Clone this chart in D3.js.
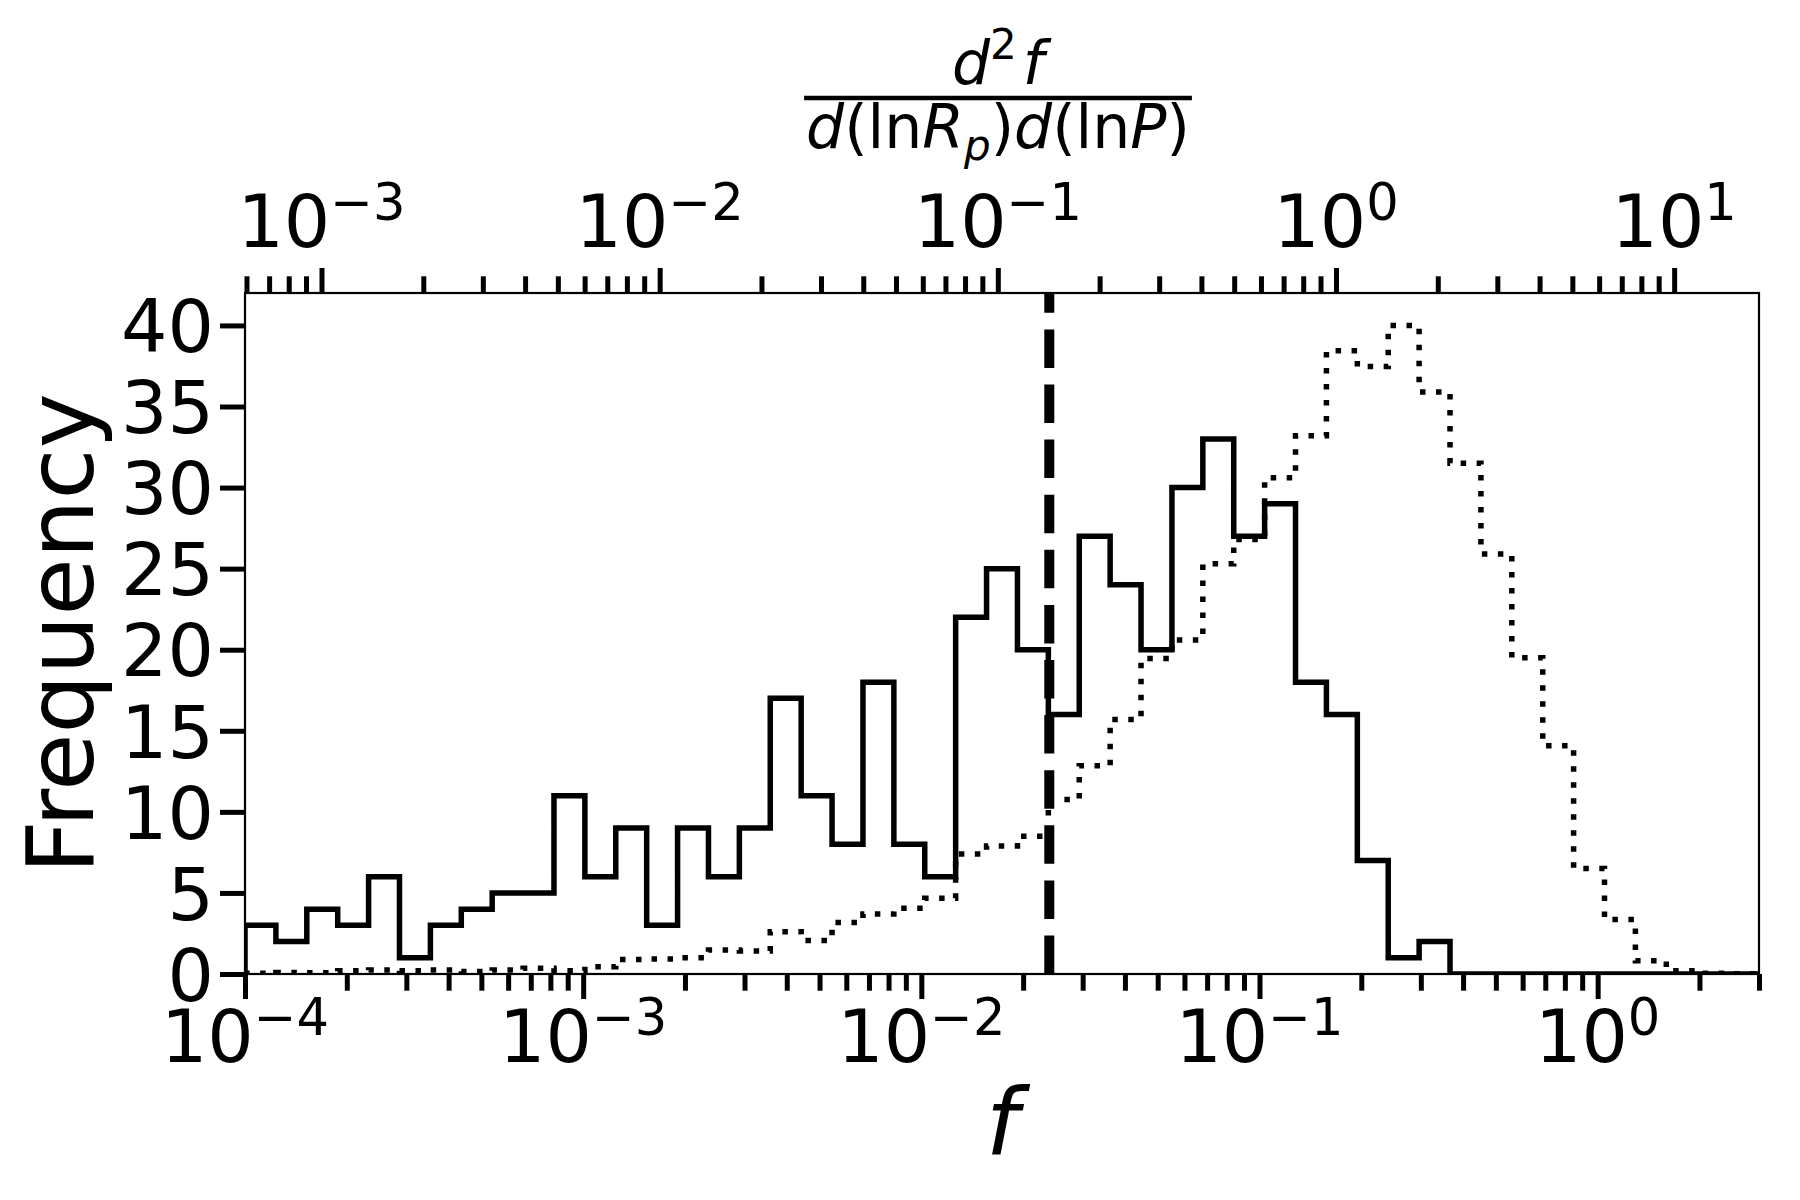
<!DOCTYPE html>
<html>
<head>
<meta charset="utf-8">
<script src="https://cdn.jsdelivr.net/npm/d3@7"></script>
<style>
    body { margin: 0; background: #fff; }
    svg { display: block; font-family: "DejaVu Sans", sans-serif; }
</style>
</head>
<body>
<svg id="chart" width="1800" height="1200"></svg>
<script>
// both histograms share the same log-spaced bins
var binLow = 1e-4;
var binHigh = 3.0;

// solid histogram (counts per bin)
var solidCounts = [3, 2, 4, 3, 6, 1, 3, 4, 5, 5, 11, 6, 9, 3, 9, 6, 9, 17, 11, 8, 18, 8, 6, 22, 25,
    20, 16, 27, 24, 20, 30, 33, 27, 29, 18, 16, 7, 1, 2, 0, 0, 0, 0, 0, 0, 0, 0, 0, 0];

// dotted histogram (scaled, non integer)
var dottedCounts = [0.05, 0.1, 0.08, 0.2, 0.25, 0.2, 0.25, 0.15, 0.25, 0.35, 0.2, 0.45,
    0.9, 0.93, 1.0, 1.48, 1.42, 2.61, 2.06, 3.17, 3.7, 4.05, 4.67,
    7.4, 7.9, 8.5, 10.76, 12.85, 15.7, 19.46, 20.6, 25.3, 26.8, 30.6, 33.2,
    38.44, 37.46, 40.0, 35.9, 31.5, 25.9, 19.5, 14.07, 6.5, 3.36, 0.81, 0.2, 0.05, 0.02];

var yTicks = [0, 5, 10, 15, 20, 25, 30, 35, 40];
var yMax = 42;
var bottomExponents = [-4, -3, -2, -1, 0];
var topExponents = [-3, -2, -1, 0, 1];
// top axis value = f * topFactor
var topFactor = 5.94;
// vertical dashed line position
var fCut = 0.0239;

var box = { left: 245, right: 1759, top: 293, bottom: 974 };
var tickFont = 73;
var labelFont = 93;
var fracFont = 60;

var svg = d3.select("#chart");

var x = d3.scaleLog().domain([binLow, binHigh]).range([box.left, box.right]);
var xTop = d3.scaleLog().domain([binLow * topFactor, binHigh * topFactor]).range([box.left, box.right]);
var y = d3.scaleLinear().domain([0, yMax]).range([box.bottom, box.top]);

// bin edges
var nBins = solidCounts.length;
var lo = Math.log10(binLow), hi = Math.log10(binHigh);
var edges = d3.range(nBins + 1).map(function (i) {
    return Math.pow(10, lo + i * (hi - lo) / nBins);
});

function stepPoints(counts) {
    var pts = [[edges[0], 0]];
    counts.forEach(function (c, i) {
        pts.push([edges[i], c]);
        pts.push([edges[i + 1], c]);
    });
    pts.push([edges[nBins], 0]);
    return pts;
}

var line = d3.line()
    .x(function (d) { return x(d[0]); })
    .y(function (d) { return y(d[1]); });

svg.append("defs").append("clipPath").attr("id", "plotClip")
    .append("rect")
    .attr("x", box.left).attr("y", box.top)
    .attr("width", box.right - box.left).attr("height", box.bottom - box.top);

var plot = svg.append("g").attr("clip-path", "url(#plotClip)");

plot.append("path")
    .attr("d", line(stepPoints(solidCounts)))
    .attr("fill", "none")
    .attr("stroke", "#000")
    .attr("stroke-width", 5.5)
    .attr("stroke-linejoin", "miter");

plot.append("path")
    .attr("d", line(stepPoints(dottedCounts)))
    .attr("fill", "none")
    .attr("stroke", "#000")
    .attr("stroke-width", 5.5)
    .attr("stroke-dasharray", "5.5 10.5");

// dashed line drawn from bottom to top
plot.append("line")
    .attr("x1", x(fCut)).attr("x2", x(fCut))
    .attr("y1", y(0)).attr("y2", box.top)
    .attr("stroke", "#000")
    .attr("stroke-width", 10)
    .attr("stroke-dasharray", "38.5 16.6");

// frame
svg.append("rect")
    .attr("x", box.left).attr("y", box.top)
    .attr("width", box.right - box.left).attr("height", box.bottom - box.top)
    .attr("fill", "none").attr("stroke", "#000").attr("stroke-width", 2.2);

function isMajor(v) {
    var l = Math.log10(v);
    return Math.abs(l - Math.round(l)) < 1e-9;
}

function drawTicks(axisFn, scale, translateY) {
    var all = scale.ticks();
    var minor = all.filter(function (v) { return !isMajor(v); });
    var major = all.filter(isMajor);
    [[minor, 16.7], [major, 25]].forEach(function (set) {
        var g = svg.append("g")
            .attr("transform", "translate(0," + translateY + ")")
            .call(axisFn(scale).tickValues(set[0]).tickSize(set[1]).tickFormat(""));
        g.select(".domain").remove();
        g.selectAll(".tick line").attr("stroke", "#000").attr("stroke-width", 5);
    });
}
drawTicks(d3.axisBottom, x, box.bottom);
drawTicks(d3.axisTop, xTop, box.top);

// 10^n labels
function powLabel(xPos, baseline, exp) {
    var t = svg.append("text")
        .attr("x", xPos).attr("y", baseline)
        .attr("text-anchor", "middle")
        .style("font-size", tickFont + "px");
    t.append("tspan").text("10");
    t.append("tspan")
        .attr("dy", -0.37 * tickFont)
        .style("font-size", (tickFont * 0.7) + "px")
        .text(exp < 0 ? "\u2212" + (-exp) : String(exp));
}
bottomExponents.forEach(function (e) { powLabel(x(Math.pow(10, e)), 1062, e); });
topExponents.forEach(function (e) { powLabel(xTop(Math.pow(10, e)), 247, e); });

// y axis
var yAxis = svg.append("g")
    .attr("transform", "translate(" + box.left + ",0)")
    .call(d3.axisLeft(y).tickValues(yTicks).tickSize(25).tickPadding(6));
yAxis.select(".domain").remove();
yAxis.selectAll(".tick line").attr("stroke", "#000").attr("stroke-width", 5);
yAxis.selectAll(".tick text")
    .attr("fill", "#000")
    .attr("dy", "0.36em")
    .style("font-family", "DejaVu Sans")
    .style("font-size", tickFont + "px");

// axis titles
svg.append("text")
    .attr("transform", "translate(93," + ((box.top + box.bottom) / 2) + ") rotate(-90)")
    .attr("text-anchor", "middle")
    .style("font-size", labelFont + "px")
    .text("Frequency");

svg.append("text")
    .attr("x", (box.left + box.right) / 2).attr("y", 1155)
    .attr("text-anchor", "middle")
    .style("font-size", labelFont + "px")
    .style("font-style", "italic")
    .text("f");

// top title: d^2 f / d(ln R_p) d(ln P)
var cx = (box.left + box.right) / 2 - 4;
var num = svg.append("text")
    .attr("x", cx).attr("y", 84)
    .attr("text-anchor", "middle")
    .style("font-size", fracFont + "px");
num.append("tspan").style("font-style", "italic").text("d");
num.append("tspan").attr("dy", -0.42 * fracFont).style("font-size", (fracFont * 0.7) + "px").text("2");
num.append("tspan").attr("dy", 0.42 * fracFont).attr("dx", 0.1 * fracFont)
    .style("font-style", "italic").text("f");

var den = svg.append("text")
    .attr("x", cx).attr("y", 148)
    .attr("text-anchor", "middle")
    .style("font-size", fracFont + "px");
den.append("tspan").style("font-style", "italic").text("d");
den.append("tspan").text("(ln");
den.append("tspan").style("font-style", "italic").text("R");
den.append("tspan").attr("dy", 0.2 * fracFont).style("font-style", "italic")
    .style("font-size", (fracFont * 0.7) + "px").text("p");
den.append("tspan").attr("dy", -0.2 * fracFont).text(")");
den.append("tspan").style("font-style", "italic").text("d");
den.append("tspan").text("(ln");
den.append("tspan").style("font-style", "italic").text("P");
den.append("tspan").text(")");

var bb = den.node().getBBox();
svg.append("line")
    .attr("x1", bb.x - 2).attr("x2", bb.x + bb.width + 2)
    .attr("y1", 98).attr("y2", 98)
    .attr("stroke", "#000").attr("stroke-width", 4.5);
</script>
</body>
</html>
